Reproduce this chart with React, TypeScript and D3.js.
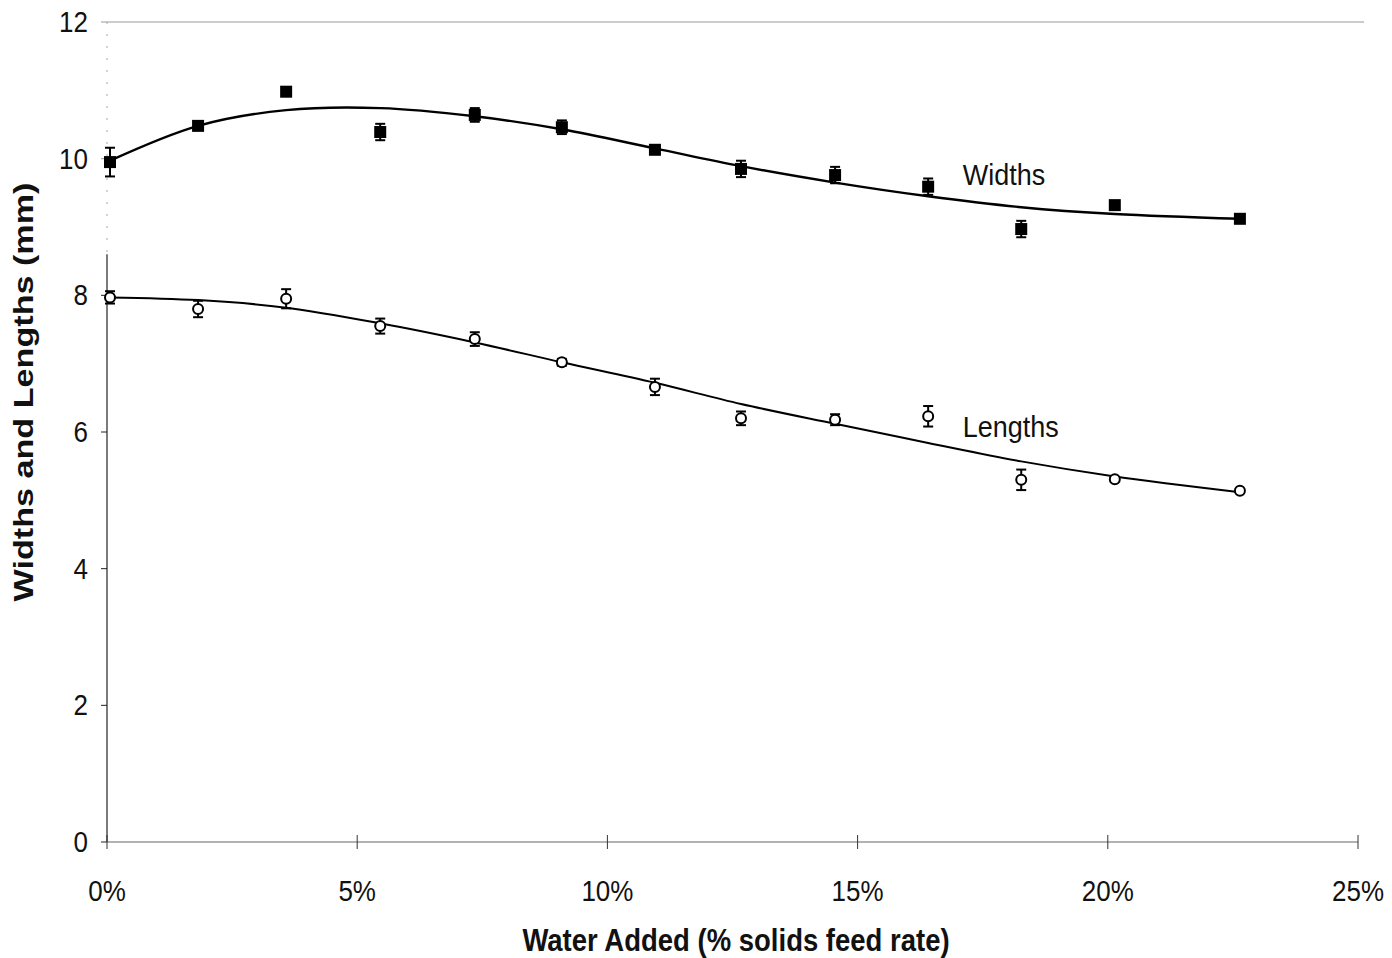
import React from "react";
import * as d3 from "d3";

// Water added, % of solids feed rate
const xValues = [0.06, 1.82, 3.58, 5.46, 7.35, 9.09, 10.95, 12.67, 14.55, 16.41, 18.27, 20.14, 22.64];

// Measured widths (mm) and their error half-widths
const widths = [9.95, 10.48, 10.98, 10.39, 10.64, 10.46, 10.13, 9.85, 9.76, 9.59, 8.97, 9.32, 9.12];
const widthErr = [0.21, 0.04, 0.03, 0.12, 0.1, 0.1, 0.04, 0.12, 0.12, 0.12, 0.12, 0.04, 0.03];

// Measured lengths (mm) and their error half-widths
const lengths = [7.97, 7.8, 7.95, 7.55, 7.36, 7.02, 6.66, 6.2, 6.18, 6.23, 5.3, 5.31, 5.14];
const lengthErr = [0.09, 0.12, 0.14, 0.11, 0.1, 0.05, 0.12, 0.1, 0.08, 0.15, 0.15, 0.02, 0.02];

// Fitted trend curves
const widthFit = [9.97, 10.48, 10.71, 10.74, 10.62, 10.43, 10.15, 9.89, 9.65, 9.45, 9.29, 9.19, 9.12];
const lengthFit = [7.97, 7.93, 7.82, 7.59, 7.31, 7.02, 6.72, 6.41, 6.12, 5.84, 5.57, 5.35, 5.12];

const xTicks = [0, 5, 10, 15, 20, 25];
const yTicks = [0, 2, 4, 6, 8, 10, 12];

const seriesLabels = [
  { text: "Widths", x: 17.1, y: 9.61 },
  { text: "Lengths", x: 17.1, y: 5.93 },
];

const W = 1392;
const H = 958;
const FONT = "'Liberation Sans', Arial, sans-serif";

export default function App() {
  const x = d3.scaleLinear().domain([0, 25]).range([107, 1358]);
  const y = d3.scaleLinear().domain([0, 12]).range([842, 22]);

  const line = d3
    .line<number>()
    .x((_, i) => x(xValues[i]))
    .y((d) => y(d))
    .curve(d3.curveCatmullRom.alpha(0.5));

  const sq = 12;
  const cap = 5;

  return (
    <svg
      width={W}
      height={H}
      style={{ position: "absolute", left: 0, top: 0, background: "#fff" }}
      fontFamily={FONT}
    >
      {/* frame top edge */}
      <line x1={x(0)} x2={x(25) + 6} y1={y(12)} y2={y(12)} stroke="#999" strokeWidth={1} />
      {/* y axis: faint upper part, solid lower part */}
      <line x1={x(0)} x2={x(0)} y1={y(12)} y2={y(8.6)} stroke="#aaa" strokeWidth={1} strokeDasharray="2 10" />
      <line x1={x(0)} x2={x(0)} y1={y(8.6)} y2={y(0)} stroke="#222" strokeWidth={1.2} />
      {/* x axis */}
      <line x1={x(0)} x2={x(25)} y1={y(0)} y2={y(0)} stroke="#666" strokeWidth={1.2} />

      {yTicks.map((t) => (
        <g key={"y" + t}>
          <line x1={x(0) - 6} x2={x(0)} y1={y(t)} y2={y(t)} stroke={t >= 10 ? "#999" : "#222"} strokeWidth={1} />
          <text
            transform={`translate(88,${y(t) + 10}) scale(1,1.12)`}
            textAnchor="end"
            fontSize={26}
            fill="#111"
          >
            {t}
          </text>
        </g>
      ))}

      {xTicks.map((t) => (
        <g key={"x" + t}>
          <line x1={x(t)} x2={x(t)} y1={y(0) - 7} y2={y(0) + 7} stroke="#333" strokeWidth={1} />
          <text
            transform={`translate(${x(t)},${y(0) + 59}) scale(1,1.12)`}
            textAnchor="middle"
            fontSize={26}
            fill="#111"
          >
            {t}%
          </text>
        </g>
      ))}

      {/* trend lines */}
      <path d={line(widthFit) || ""} fill="none" stroke="#000" strokeWidth={2.4} />
      <path d={line(lengthFit) || ""} fill="none" stroke="#000" strokeWidth={2} />

      {/* widths: error bars + filled squares */}
      {widths.map((v, i) => {
        const cx = x(xValues[i]);
        const e = widthErr[i];
        return (
          <g key={"w" + i}>
            <line x1={cx} x2={cx} y1={y(v + e)} y2={y(v - e)} stroke="#000" strokeWidth={2} />
            <line x1={cx - cap} x2={cx + cap} y1={y(v + e)} y2={y(v + e)} stroke="#000" strokeWidth={2} />
            <line x1={cx - cap} x2={cx + cap} y1={y(v - e)} y2={y(v - e)} stroke="#000" strokeWidth={2} />
            <rect x={cx - sq / 2} y={y(v) - sq / 2} width={sq} height={sq} fill="#000" />
          </g>
        );
      })}

      {/* lengths: error bars + open circles */}
      {lengths.map((v, i) => {
        const cx = x(xValues[i]);
        const e = lengthErr[i];
        return (
          <g key={"l" + i}>
            <line x1={cx} x2={cx} y1={y(v + e)} y2={y(v - e)} stroke="#000" strokeWidth={2} />
            <line x1={cx - cap} x2={cx + cap} y1={y(v + e)} y2={y(v + e)} stroke="#000" strokeWidth={2} />
            <line x1={cx - cap} x2={cx + cap} y1={y(v - e)} y2={y(v - e)} stroke="#000" strokeWidth={2} />
            <circle cx={cx} cy={y(v)} r={5} fill="#fff" stroke="#000" strokeWidth={2} />
          </g>
        );
      })}

      {seriesLabels.map((l) => (
        <text
          key={l.text}
          transform={`translate(${x(l.x)},${y(l.y)}) scale(1,1.12)`}
          fontSize={27}
          fill="#111"
        >
          {l.text}
        </text>
      ))}

      {/* axis titles */}
      <text
        transform={`translate(736,951) scale(1,1.12)`}
        textAnchor="middle"
        fontSize={27.5}
        fontWeight="bold"
        fill="#111"
      >
        Water Added (% solids feed rate)
      </text>
      <text
        transform={`translate(33,392) scale(1,1.22) rotate(-90)`}
        textAnchor="middle"
        fontSize={28}
        fontWeight="bold"
        fill="#111"
      >
        Widths and Lengths (mm)
      </text>
    </svg>
  );
}
